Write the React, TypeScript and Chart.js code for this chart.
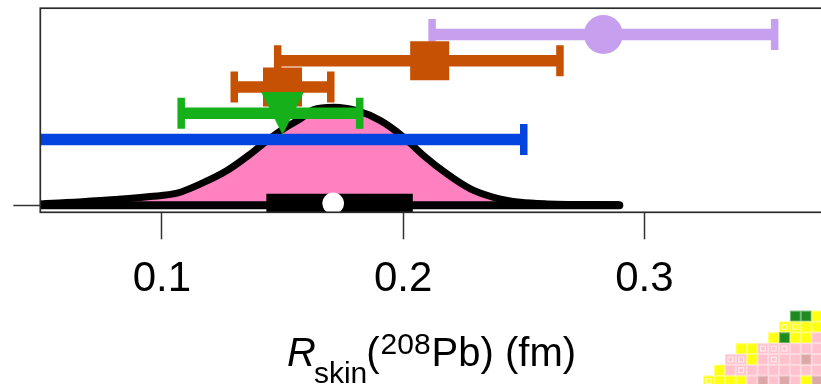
import React, { useEffect, useRef } from "react";
import { Chart, registerables } from "chart.js";
Chart.register(...registerables);

// ---- axis settings ----
const xTicks = [0.1, 0.2, 0.3];
const yTicks = [0];
const xMin = 0.0496;
const xMax = 0.3813;
const yMin = -0.27;
const yMax = 7.5;

// ---- posterior density (violin outline) ----
const kdeX = [0.03, 0.0496, 0.0745, 0.0952, 0.1063, 0.116, 0.127, 0.1367, 0.1436, 0.1505, 0.1574, 0.1628, 0.1712, 0.1809, 0.1906, 0.2002, 0.2085, 0.2182, 0.2279, 0.2375, 0.2486, 0.2597, 0.2896];
const kdeY = [0.03, 0.05, 0.175, 0.33, 0.46, 0.81, 1.32, 1.95, 2.46, 2.91, 3.29, 3.63, 3.73, 3.6, 3.22, 2.59, 1.89, 1.19, 0.62, 0.3, 0.11, 0.05, 0.02];

// ---- posterior summary ----
const whiskerRange = [0.03, 0.2896];
const boxRange = [0.1433, 0.204];
const medianValue = 0.171;
const medianRow = 0.07;

// ---- measurements (with markers) ----
const measNames = ["lavender", "orange (upper)", "orange (lower)", "green"];
const measCenter = [0.283, 0.211, 0.15, 0.15];
const measLow = [0.212, 0.148, 0.13, 0.108];
const measHigh = [0.354, 0.265, 0.17, 0.182];
const measRow = [6.5, 5.5, 4.5, 3.5];
const measColor = ["#c79fef", "#c65102", "#c65102", "#15b01a"];
const measMarker = ["circle", "rect", "rect", "triangleDown"];

// ---- band without marker ----
const bandName = "blue";
const bandRange = [0.03, 0.25];
const bandRow = 2.5;
const bandColor = "#0343df";

// ---- decorative pixel block (bottom right) ----
const artifactRows = [
  "........GGY",
  ".......yyYY",
  "......YGYYP",
  "...YYpppPPP",
  "..ppYPpPPDP",
  ".YPpPPPPPPP",
  "yYYYPDPDPYD",
];

const FONT = '"Liberation Sans", Arial, Helvetica, sans-serif';

// canvas is shifted up by OFF pixels so the plot box can sit close to the top
const OFF = 30;
// target plot box (page pixels)
const AREA = { left: 40.3, top: 8.2, bottom: 212.3, pxPerUnitX: 2412.5 };

function triangleDown(size: number, color: string) {
  const c = document.createElement("canvas");
  c.width = size;
  c.height = size;
  const g = c.getContext("2d")!;
  g.fillStyle = color;
  g.beginPath();
  g.moveTo(0, 0);
  g.lineTo(size, 0);
  g.lineTo(size / 2, size);
  g.closePath();
  g.fill();
  return c;
}

const framePlugin = {
  id: "frame",
  afterDatasetsDraw(chart: any) {
    const { ctx, chartArea: a } = chart;
    ctx.save();
    ctx.strokeStyle = "#2b2b2b";
    ctx.lineWidth = 1.7;
    ctx.strokeRect(a.left, a.top, a.right - a.left, a.bottom - a.top);
    ctx.restore();
  },
};

const titlePlugin = {
  id: "richTitle",
  afterDraw(chart: any) {
    const ctx = chart.ctx;
    ctx.save();
    ctx.fillStyle = "#000";
    ctx.textBaseline = "alphabetic";
    ctx.textAlign = "left";
    const base = 366 + OFF;
    let x = 287;
    ctx.font = `italic 40px ${FONT}`;
    ctx.fillText("R", x, base);
    x += ctx.measureText("R").width - 2;
    ctx.font = `30px ${FONT}`;
    ctx.fillText("skin", x, base + 17);
    x += ctx.measureText("skin").width - 1;
    ctx.font = `40px ${FONT}`;
    ctx.fillText("(", x, base);
    x += ctx.measureText("(").width + 1;
    ctx.font = `30px ${FONT}`;
    ctx.fillText("208", x, base - 12);
    x += ctx.measureText("208").width + 1;
    ctx.font = `40px ${FONT}`;
    ctx.fillText("Pb) (fm)", x, base);
    ctx.restore();
  },
};

const artifactPlugin = {
  id: "artifact",
  afterDraw(chart: any) {
    const ctx = chart.ctx;
    const s = 10.83;
    const x0 = 703.3;
    const y0 = 310.7 + OFF;
    const colors: Record<string, string> = {
      G: "#1f8a1f",
      Y: "#ffff10",
      y: "#ffff10",
      P: "#ffc1cc",
      p: "#ffc1cc",
      D: "#dba7a7",
    };
    ctx.save();
    artifactRows.forEach((row, r) => {
      row.split("").forEach((ch, c) => {
        if (ch === ".") return;
        const x = x0 + c * s;
        const y = y0 + r * s;
        ctx.fillStyle = colors[ch];
        ctx.fillRect(x, y, s, s);
        ctx.strokeStyle = "rgba(255,255,255,0.4)";
        ctx.lineWidth = 1;
        ctx.strokeRect(x + 0.5, y + 0.5, s - 1, s - 1);
        if (ch === "y" || ch === "p") {
          ctx.strokeStyle = "rgba(255,255,255,0.7)";
          ctx.lineWidth = 1.2;
          ctx.strokeRect(x + 3, y + 3, s - 6, s - 6);
        }
      });
    });
    ctx.restore();
  },
};

export default function App() {
  const ref = useRef<HTMLCanvasElement | null>(null);

  useEffect(() => {
    if (!ref.current) return;
    const tri = triangleDown(43, measColor[3]);
    const datasets: any[] = [];

    datasets.push({
      label: "posterior",
      data: kdeX.map((x, i) => ({ x, y: kdeY[i] })),
      borderColor: "#000",
      borderWidth: 7,
      backgroundColor: "#ff81c0",
      fill: "origin",
      pointRadius: 0,
      cubicInterpolationMode: "monotone",
      order: 10,
      clip: 0,
    });
    datasets.push({
      label: "whisker",
      data: whiskerRange.map((x) => ({ x, y: 0 })),
      borderColor: "#000",
      borderWidth: 8,
      borderCapStyle: "round",
      pointRadius: 0,
      fill: false,
      order: 9,
      clip: 0,
    });
    datasets.push({
      label: "box",
      data: boxRange.map((x) => ({ x, y: 0 })),
      borderColor: "#000",
      borderWidth: 23,
      borderCapStyle: "butt",
      pointRadius: 0,
      fill: false,
      order: 8,
      clip: 0,
    });
    datasets.push({
      label: "median",
      data: [{ x: medianValue, y: medianRow }],
      showLine: false,
      pointRadius: 10.8,
      pointBackgroundColor: "#fff",
      pointBorderWidth: 0,
      order: 7,
      clip: 0,
    });

    const errBar = (label: string, lo: number, hi: number, row: number, color: string, order: number) => ({
      label,
      data: [
        { x: lo, y: row },
        { x: hi, y: row },
      ],
      borderColor: color,
      borderWidth: 11.5,
      borderCapStyle: "butt",
      fill: false,
      pointStyle: "line",
      pointRotation: 90,
      pointRadius: 15.5,
      pointBorderWidth: 7.5,
      pointBorderColor: color,
      pointBackgroundColor: color,
      order,
      clip: 0,
    });

    datasets.push(errBar(bandName, bandRange[0], bandRange[1], bandRow, bandColor, 6));
    const barOrders = [3, 4, 4, 5];
    measCenter.forEach((_, i) => {
      datasets.push(errBar(measNames[i], measLow[i], measHigh[i], measRow[i], measColor[i], barOrders[i]));
    });
    measCenter.forEach((c, i) => {
      const m = measMarker[i];
      datasets.push({
        label: measNames[i] + " marker",
        data: [{ x: c, y: measRow[i] }],
        showLine: false,
        pointStyle: m === "triangleDown" ? tri : m,
        pointRadius: m === "circle" ? 19.5 : m === "rect" ? 27.6 : 21.5,
        pointBackgroundColor: measColor[i],
        pointBorderWidth: 0,
        order: m === "triangleDown" ? 1 : 2,
        clip: 0,
      });
    });

    const padding = { left: 13, top: 8.2 + OFF, right: 0, bottom: 69.3 };
    const chart = new Chart(ref.current, {
      type: "line",
      data: { datasets },
      options: {
        responsive: false,
        devicePixelRatio: 1,
        animation: false,
        events: [],
        layout: { padding },
        plugins: { legend: { display: false }, tooltip: { enabled: false }, title: { display: false } },
        scales: {
          x: {
            type: "linear",
            min: xMin,
            max: xMax,
            afterBuildTicks: (axis: any) => {
              axis.ticks = xTicks.map((v) => ({ value: v }));
            },
            ticks: {
              autoSkip: false,
              maxRotation: 0,
              padding: 15,
              color: "#000",
              font: { family: FONT, size: 42 },
              callback: (v: any) => Number(v).toFixed(1),
            },
            grid: {
              display: true,
              drawOnChartArea: false,
              drawTicks: true,
              tickLength: 27,
              tickWidth: 1.5,
              tickColor: "#333",
            },
            border: { display: false },
          },
          y: {
            type: "linear",
            min: yMin,
            max: yMax,
            afterBuildTicks: (axis: any) => {
              axis.ticks = yTicks.map((v) => ({ value: v }));
            },
            ticks: { display: false },
            grid: {
              display: true,
              drawOnChartArea: false,
              drawTicks: true,
              tickLength: 27,
              tickWidth: 1.5,
              tickColor: "#333",
            },
            border: { display: false },
          },
        },
      },
      plugins: [framePlugin, titlePlugin, artifactPlugin],
    } as any);

    // fit the plot box to the target frame (canvas coordinates)
    const targetRight = AREA.left + (xMax - xMin) * AREA.pxPerUnitX;
    for (let k = 0; k < 4; k++) {
      const a = chart.chartArea;
      padding.left += AREA.left - a.left;
      padding.top += AREA.top + OFF - a.top;
      padding.right += a.right - targetRight;
      padding.bottom += a.bottom - (AREA.bottom + OFF);
      (chart.options as any).layout.padding = { ...padding };
      chart.update();
    }
    return () => chart.destroy();
  }, []);

  return (
    <div
      style={{
        position: "fixed",
        left: 0,
        top: 0,
        width: 821,
        height: 384,
        overflow: "hidden",
        background: "#fff",
      }}
    >
      <canvas
        ref={ref}
        width={880}
        height={384 + OFF}
        style={{ width: 880, height: 384 + OFF, display: "block", position: "absolute", left: 0, top: -OFF }}
      />
    </div>
  );
}
